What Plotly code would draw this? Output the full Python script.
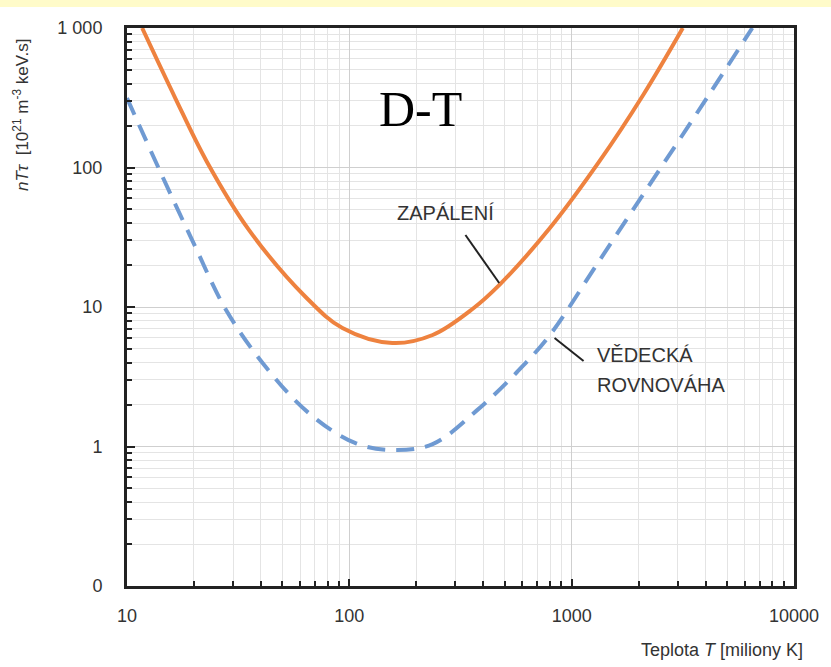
import plotly.graph_objects as go

# ---- data ----
T_ignition = [11.7, 16.4, 22.8, 35.4, 63.6, 93.1, 156, 237, 358, 477, 798, 1334, 2097, 3162]
nTt_ignition = [1000, 320, 111, 35.6, 11.8, 7.07, 5.52, 6.30, 9.68, 14.6, 36.8, 111, 331, 1000]

T_breakeven = [10, 14.0, 19.9, 27.9, 42.2, 65.6, 106, 157, 237, 377, 568, 798, 1293, 2161, 3614, 6494]
nTt_breakeven = [315, 95.9, 28.8, 9.52, 3.7, 1.74, 1.06, 0.944, 1.04, 1.83, 3.42, 6.30, 20.0, 69.0, 238, 1000]

x_tickvals = [10, 100, 1000, 10000]
x_ticktext = ["10", "100", "1000", "10000"]
y_tickvals = [0.1, 1, 10, 100, 1000]
y_ticktext = ["0", "1", "10", "100", "1 000"]

label_ignition = "ZAPÁLENÍ"
label_breakeven_1 = "VĚDECKÁ"
label_breakeven_2 = "ROVNOVÁHA"
title_text = "D-T"
x_title = "Teplota <i>T</i> [miliony K]"
y_title = "<i>nTτ</i>  [10<sup>21</sup> m<sup>-3</sup> keV.s]"

minor_x = [m * 10 ** e for e in range(1, 4) for m in range(2, 10)]
minor_y = [m * 10 ** e for e in range(-1, 3) for m in range(2, 10)]

fig = go.Figure()
fig.add_trace(go.Scatter(
    x=T_ignition, y=nTt_ignition, mode="lines",
    line=dict(color="#EE823F", width=4, shape="spline", smoothing=1.0),
    showlegend=False, hoverinfo="skip"))
fig.add_trace(go.Scatter(
    x=T_breakeven, y=nTt_breakeven, mode="lines",
    line=dict(color="#6F9AD2", width=4, shape="spline", smoothing=1.0, dash="18px,11px"),
    showlegend=False, hoverinfo="skip"))

txt = "#333333"
fig.update_xaxes(
    type="log", range=[1, 4],
    tickvals=x_tickvals, ticktext=x_ticktext,
    ticks="inside", ticklen=7, tickwidth=2, tickcolor="#222",
    ticklabelstandoff=11,
    tickfont=dict(family="Liberation Sans, Arial", size=18, color=txt),
    showline=True, linecolor="#222", linewidth=3, mirror=True,
    showgrid=True, gridcolor="#cfcfcf", gridwidth=1,
    minor=dict(tickvals=minor_x, ticks="inside", ticklen=5, tickwidth=2,
               tickcolor="#222", showgrid=True, gridcolor="#e4e4e4", gridwidth=1),
    zeroline=False)
fig.update_yaxes(
    type="log", range=[-1, 3],
    tickvals=y_tickvals, ticktext=y_ticktext,
    ticks="inside", ticklen=8, tickwidth=2, tickcolor="#222",
    ticklabelstandoff=18,
    tickfont=dict(family="Liberation Sans, Arial", size=18, color=txt),
    showline=True, linecolor="#222", linewidth=3, mirror=True,
    showgrid=True, gridcolor="#cfcfcf", gridwidth=1,
    minor=dict(tickvals=minor_y, ticks="inside", ticklen=5, tickwidth=2,
               tickcolor="#222", showgrid=True, gridcolor="#e4e4e4", gridwidth=1),
    zeroline=False)

anns = [
    dict(text=title_text, x=0.4405, y=0.855, xref="paper", yref="paper",
         xanchor="center", yanchor="middle", showarrow=False,
         font=dict(family="Liberation Serif, Times New Roman", size=50, color="black")),
    dict(text=label_ignition, x=0.478, y=0.668, xref="paper", yref="paper",
         xanchor="center", yanchor="middle", showarrow=False,
         font=dict(family="Liberation Sans, Arial", size=20, color=txt)),
    dict(text=label_breakeven_1, x=0.701, y=0.414, xref="paper", yref="paper",
         xanchor="left", yanchor="middle", showarrow=False,
         font=dict(family="Liberation Sans, Arial", size=20, color=txt)),
    dict(text=label_breakeven_2, x=0.701, y=0.360, xref="paper", yref="paper",
         xanchor="left", yanchor="middle", showarrow=False,
         font=dict(family="Liberation Sans, Arial", size=20, color=txt)),
    dict(text=x_title, x=1.016, y=-0.115, xref="paper", yref="paper",
         xanchor="right", yanchor="middle", showarrow=False,
         font=dict(family="Liberation Sans, Arial", size=18, color=txt)),
    dict(text=y_title, x=-0.159, y=0.844, xref="paper", yref="paper",
         xanchor="center", yanchor="middle", showarrow=False, textangle=-90,
         font=dict(family="Liberation Sans, Arial", size=17, color=txt)),
]

shapes = [
    # yellow band at the top of the page
    dict(type="rect", xref="paper", yref="paper", x0=-0.2, x1=1.1,
         y0=(586 - 7) / 558, y1=1.06, fillcolor="#FFFBC9", line=dict(width=0), layer="below"),
    # leader lines
    dict(type="line", xref="paper", yref="paper", x0=0.5074, y0=0.629, x1=0.558, y1=0.543,
         line=dict(color="#222", width=2)),
    dict(type="line", xref="paper", yref="paper", x0=0.641, y0=0.4444, x1=0.6845, y1=0.4032,
         line=dict(color="#222", width=2)),
]

fig.update_layout(
    width=831, height=667,
    margin=dict(l=127, r=32, t=28, b=81),
    paper_bgcolor="white", plot_bgcolor="white",
    annotations=anns, shapes=shapes,
    showlegend=False)

fig.write_html("out.html")
